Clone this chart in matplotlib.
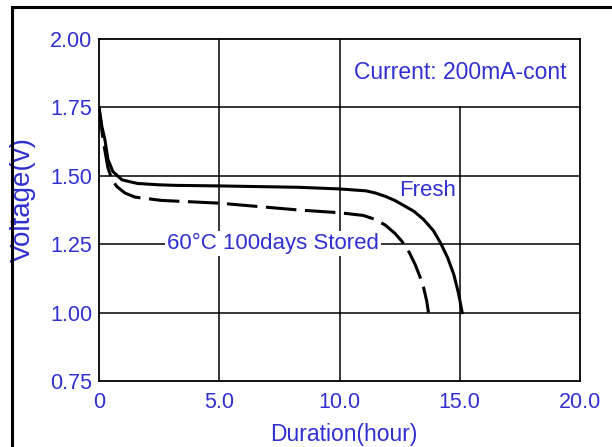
import matplotlib
matplotlib.use("Agg")
import matplotlib.pyplot as plt
from matplotlib.patches import Rectangle

# discharge curves
fresh_hours = [0, 0.12, 0.25, 0.37, 0.58, 0.96, 1.6, 2.5, 3.2, 5.0, 8.3, 10.0, 11.1, 11.5, 11.9, 12.3,
               12.7, 13.1, 13.5, 13.9, 14.2, 14.5, 14.75, 14.95, 15.1]
fresh_volts = [1.75, 1.68, 1.63, 1.56, 1.515, 1.485, 1.472, 1.467, 1.465, 1.463, 1.458, 1.452, 1.445, 1.437,
               1.425, 1.41, 1.39, 1.37, 1.34, 1.30, 1.255, 1.20, 1.14, 1.07, 1.00]

stored_hours = [0, 0.17, 0.37, 0.54, 0.75, 1.08, 1.5, 2.6, 5.0, 8.3, 10.0, 11.0, 11.5, 11.9, 12.3,
                12.6, 12.9, 13.15, 13.35, 13.5, 13.62, 13.7]
stored_volts = [1.75, 1.63, 1.53, 1.485, 1.46, 1.437, 1.422, 1.41, 1.40, 1.375, 1.365, 1.355, 1.34, 1.32,
                1.29, 1.26, 1.22, 1.175, 1.13, 1.09, 1.045, 1.00]

x_ticks = [0, 5, 10, 15, 20]
x_tick_labels = ["0", "5.0", "10.0", "15.0", "20.0"]
y_ticks = [0.75, 1.00, 1.25, 1.50, 1.75, 2.00]
y_tick_labels = ["0.75", "1.00", "1.25", "1.50", "1.75", "2.00"]

BLUE = "#3030d0"
plt.rcParams['font.family'] = ['Liberation Sans', 'DejaVu Sans']

fig = plt.figure(figsize=(6.12, 4.47), dpi=100)
ax = fig.add_axes([99 / 612, 1 - 381 / 447, 481 / 612, 342 / 447])

# outer border of the picture (runs off the right and bottom edges)
fig.patches.append(Rectangle((12 / 612, -0.1), 1.2, 1 - 7 / 447 + 0.1, transform=fig.transFigure,
                             fill=False, edgecolor="black", linewidth=2.2, zorder=0))

# grid
for v in [1.00, 1.25, 1.50, 1.75]:
    ax.axhline(v, color="black", linewidth=1.1, zorder=1)
for h in [5, 10]:
    ax.axvline(h, color="black", linewidth=1.1, zorder=1)
ax.plot([15, 15], [0.75, 1.75], color="black", linewidth=1.1, zorder=1)

ax.plot(fresh_hours, fresh_volts, color="black", linewidth=2.2, solid_joinstyle="round", zorder=3)
ax.plot(stored_hours, stored_volts, color="black", linewidth=2.2, dashes=(10, 2.8),
        dash_capstyle="butt", dash_joinstyle="round", zorder=3)

ax.set_xlim(0, 20)
ax.set_ylim(0.75, 2.00)
ax.set_xticks(x_ticks)
ax.set_xticklabels(x_tick_labels)
ax.set_yticks(y_ticks)
ax.set_yticklabels(y_tick_labels)
ax.tick_params(length=0, labelsize=15.5, labelcolor=BLUE)
ax.tick_params(axis="x", pad=8)
ax.tick_params(axis="y", pad=5)
for s in ax.spines.values():
    s.set_linewidth(1.3)

ax.set_xlabel("Duration(hour)", fontsize=16.5, color=BLUE, va="center")
ax.xaxis.set_label_coords(0.51, -0.155)
ax.set_ylabel("Voltage(v)", fontsize=20, color=BLUE, va="center")
ax.yaxis.set_label_coords(-0.158, 0.53)

ax.text(15.0, 1.876, "Current: 200mA-cont", fontsize=16.5, color=BLUE, ha="center", va="center", zorder=4)
ax.text(13.68, 1.448, "Fresh", fontsize=16, color=BLUE, ha="center", va="center", zorder=4)
ax.text(7.25, 1.254, "60°C 100days Stored", fontsize=16, color=BLUE, ha="center", va="center", zorder=4,
        bbox=dict(facecolor="white", edgecolor="none", pad=1.5))

fig.savefig("out.png", dpi=100)
